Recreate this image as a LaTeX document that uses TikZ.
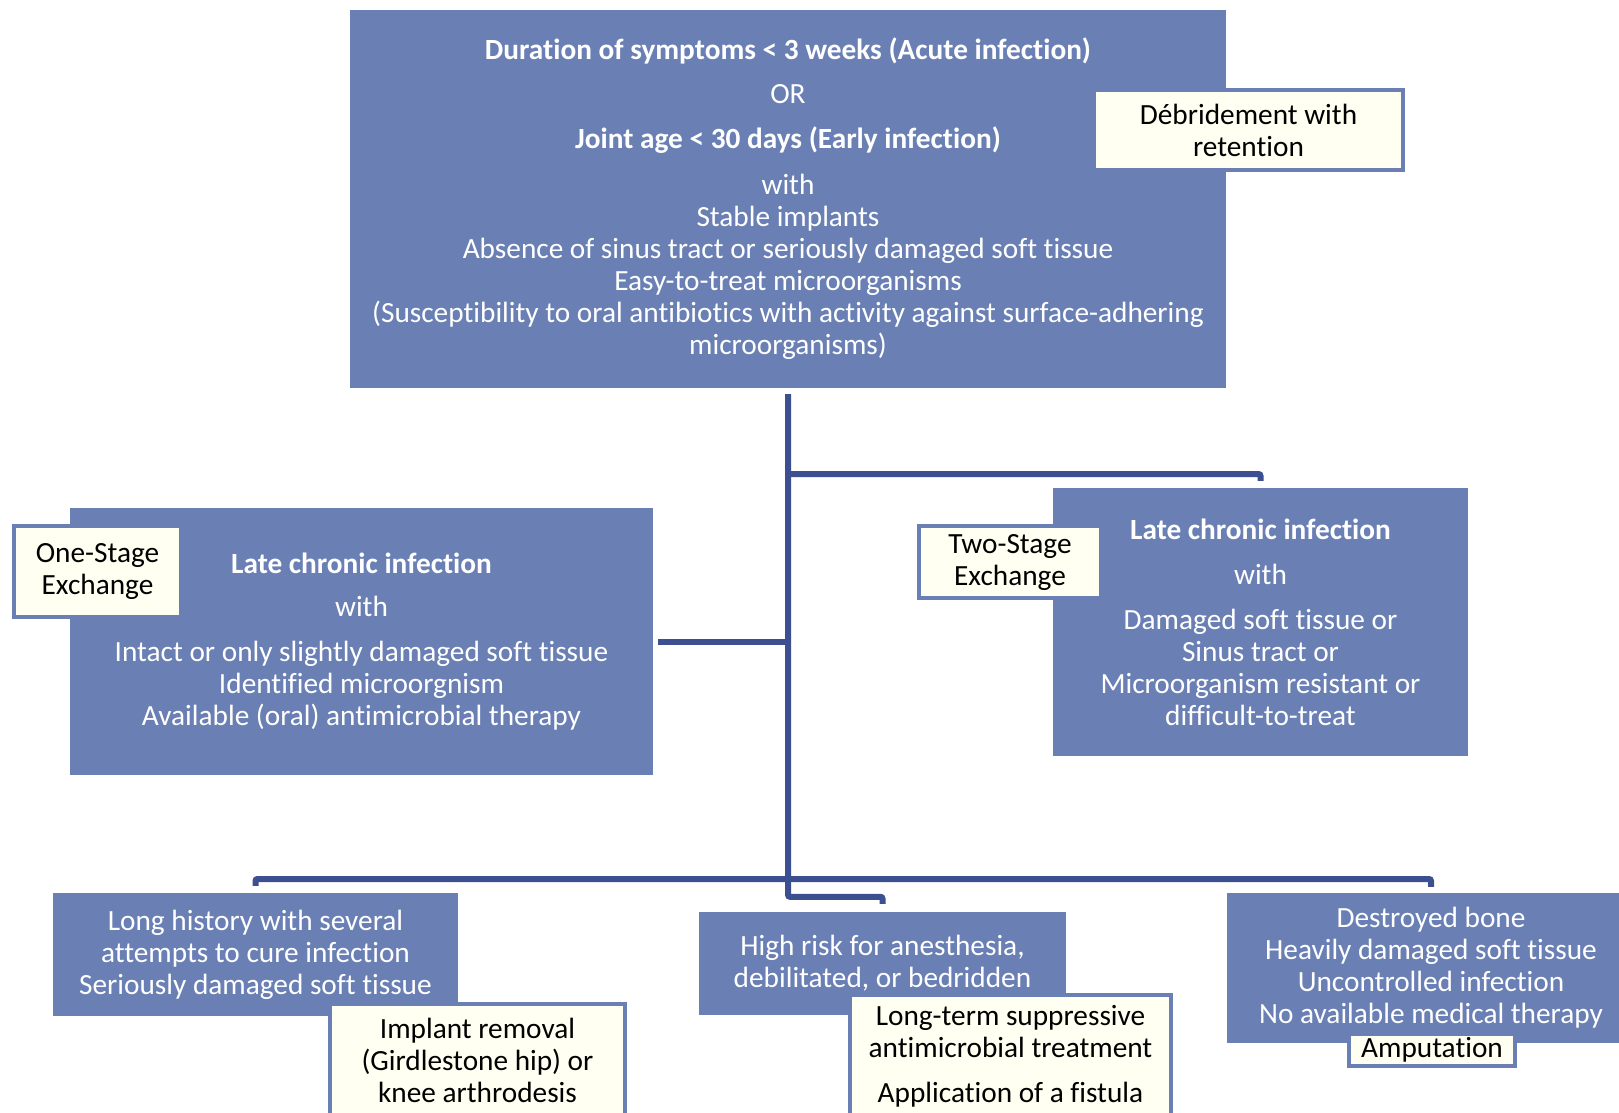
\documentclass[tikz,border=0pt]{standalone}
\usepackage{fontspec}
\setmainfont{Carlito}[Ligatures=NoCommon]
\definecolor{boxblue}{RGB}{106,128,180}
\definecolor{linkblue}{RGB}{59,79,145}
\definecolor{tagfill}{RGB}{255,255,242}
\tikzset{
mainbox/.style={
	  fill=boxblue, text=white, align=center, inner sep=0pt,
	    font=\fontsize{29.3}{32}\selectfont},
tagbox/.style={
	  fill=tagfill, draw=boxblue, line width=4pt, text=black, align=center,
	    inner sep=0pt, font=\fontsize{29.3}{32}\selectfont},
conn/.style={draw=linkblue, line width=6pt}
}

\begin{document}
\begin{tikzpicture}[x=1pt, y=-1pt]
	\useasboundingbox (0,0) rectangle (1619,1112);
	\clip (0,0) rectangle (1619,1112);
	\node[mainbox, minimum width=876pt, minimum height=378pt] (top) at (788,199)
	{\textbf{Duration of symptoms < 3 weeks (Acute infection)}\\[12pt]
	OR\\[13pt]
	\textbf{Joint age < 30 days (Early infection)}\\[14pt]
	with\\
	Stable implants\\
	Absence of sinus tract or seriously damaged soft tissue\\
	Easy-to-treat microorganisms\\
	(Susceptibility to oral antibiotics with activity against surface-adhering\\
	microorganisms)};
	\node[mainbox, minimum width=583pt, minimum height=267pt] (onestage) at (361.5,641.5)
	{\textbf{Late chronic infection}\\[11pt]
	with\\[13pt]
	Intact or only slightly damaged soft tissue\\
	Identified microorgnism\\
	Available (oral) antimicrobial therapy};
	\node[mainbox, minimum width=415pt, minimum height=268pt] (twostage) at (1260.5,622)
	{\textbf{Late chronic infection}\\[13pt]
	with\\[13pt]
	Damaged soft tissue or\\
	Sinus tract or\\
	Microorganism resistant or\\
	difficult-to-treat};
	\node[mainbox, minimum width=405pt, minimum height=123pt] (history) at (255.5,954.5)
	{Long history with several\\
	attempts to cure infection\\
	Seriously damaged soft tissue};
	\node[mainbox, minimum width=367pt, minimum height=103pt] (risk) at (882.5,963.5)
	{High risk for anesthesia,\\
	debilitated, or bedridden};
	\node[mainbox, minimum width=408pt, minimum height=150pt] (bone) at (1431,968)
	{Destroyed bone\\
	Heavily damaged soft tissue\\
	Uncontrolled infection\\
	No available medical therapy};

	\node[tagbox, minimum width=309pt, minimum height=80pt] (debr) at (1248.5,130)
	{D\'ebridement with\\retention};
	\node[tagbox, minimum width=167pt, minimum height=91pt] (onetag) at (97.5,571)
	{One-Stage\\Exchange};
	\node[tagbox, minimum width=182pt, minimum height=72pt] (twotag) at (1010,562)
	{Two-Stage\\Exchange};
	\node[tagbox, minimum width=295pt, minimum height=113pt] (removal) at (477.5,1060.5)
	{Implant removal\\(Girdlestone hip) or\\knee arthrodesis};
	\node[tagbox, minimum width=321pt, minimum height=123pt] (suppress) at (1010.5,1056)
	{Long-term suppressive\\antimicrobial treatment\\[13pt]Application of a fistula};
	\node[tagbox, minimum width=166pt, minimum height=32pt] (amput) at (1432,1050)
	{Amputation};

	\coordinate (jright) at (top.south |- 0,474);
	\coordinate (jbottom) at (top.south |- 0,879);
	\draw[conn, rounded corners=2pt, shorten <=6pt, shorten >=8pt] (top.south) |- ([yshift=15pt]risk.north) -- (risk.north);
	\draw[conn, rounded corners=2pt, shorten >=7pt] (jright) -| (twostage.north);
	\draw[conn, shorten >=5pt] (top.south |- onestage.east) -- (onestage.east);
	\draw[conn, rounded corners=2pt, shorten >=7pt] (jbottom) -| (history.north);
	\draw[conn, rounded corners=2pt, shorten >=6pt] (jbottom) -| (bone.north);
\end{tikzpicture}
\end{document}
